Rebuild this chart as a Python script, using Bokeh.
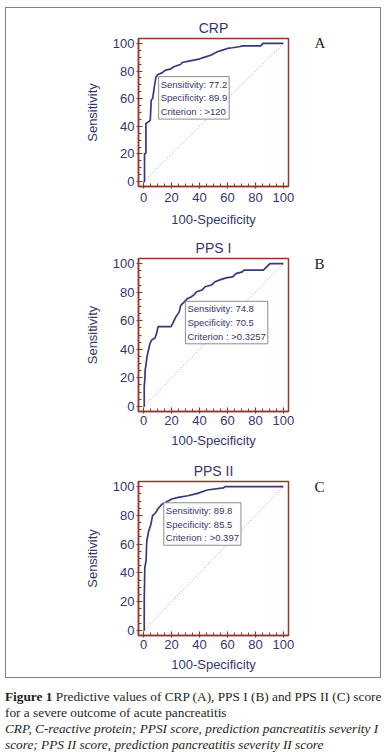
from bokeh.plotting import figure
from bokeh.layouts import column
from bokeh.models import Label, Div, SingleIntervalTicker, Range1d, LinearAxis, FixedTicker
from bokeh.embed import file_html
from bokeh.resources import INLINE

# ---- data ----
crp_fpr = [0, 0.7, 0.7, 1.7, 1.7, 3.6, 4.8, 5.5, 6.5, 7.9, 8.9, 10.3, 13.2, 15.6, 19.2, 21.6,
           26.4, 27.6, 32.4, 36.0, 39.6, 42.0, 44.4, 48.0, 50.4, 52.8, 56.4, 60.0, 63.5, 68.3,
           70.7, 83.9, 85.1, 100]
crp_tpr = [0, 0, 20.3, 20.3, 42.0, 43.2, 44.4, 58.9, 60.1, 69.8, 75.8, 77.5, 78.7, 80.7, 81.4, 83.1,
           84.8, 86.2, 87.2, 87.9, 88.6, 89.6, 90.3, 91.5, 92.8, 94.0, 95.2, 96.4, 96.9, 97.6,
           98.3, 98.3, 100, 100]

pps1_fpr = [0, 0.5, 0.5, 1.0, 1.2, 1.6, 2.5, 4.6, 5.8, 8.1, 9.3, 10.4, 19.7, 20.8, 23.1, 25.5,
            26.6, 29.0, 31.3, 33.6, 35.9, 38.0, 41.7, 44.0, 48.6, 51.0, 55.6, 59.0, 63.7, 66.0,
            70.6, 71.8, 85.6, 88.0, 90.3, 100]
pps1_tpr = [0, 0, 14.0, 20.0, 25.7, 28.0, 35.0, 44.0, 46.5, 47.7, 51.0, 55.8, 55.8, 58.0, 62.7, 66.2,
            70.8, 73.0, 75.5, 76.5, 78.0, 80.3, 81.5, 83.8, 85.0, 87.3, 89.0, 90.0, 90.7, 93.0,
            94.2, 95.4, 95.4, 97.7, 100, 100]

pps2_fpr = [0, 0.5, 0.5, 0.9, 1.8, 2.3, 3.7, 5.3, 6.4, 8.7, 11.0, 13.3, 15.6, 20.2, 24.8, 31.7,
            38.6, 45.5, 57.0, 58.2, 100]
pps2_tpr = [0, 0, 21.4, 43.6, 48.3, 62.2, 69.2, 73.9, 79.7, 82.0, 85.5, 87.9, 89.0, 91.4, 92.5, 93.7,
            95.3, 97.7, 99.1, 100, 100]

diag = [0, 100]

titles = ["CRP", "PPS I", "PPS II"]
letters = ["A", "B", "C"]
box_texts = ["Sensitivity: 77.2\nSpecificity: 89.9\nCriterion : >120",
             "Sensitivity: 74.8\nSpecificity: 70.5\nCriterion : >0.3257",
             "Sensitivity: 89.8\nSpecificity: 85.5\nCriterion : >0.397"]
box_x = [10.8, 29.9, 14.5]
box_y = [76.0, 73.6, 88.8]

NAVY = "#363a78"
BROWN = "#8e3b2e"
TEXT = "#34366e"


def make_panel(i, fpr, tpr, height, left, right, top, bottom, tick_standoff, xlabel_standoff):
    p = figure(width=374, height=height,
               x_range=Range1d(-3.6, 103.6), y_range=Range1d(-3.6, 103.6),
               output_backend="svg", toolbar_location=None,
               min_border_left=left, min_border_right=right,
               min_border_top=top, min_border_bottom=bottom,
               title=titles[i])
    p.title.align = "center"
    p.title.text_font = "Liberation Sans"
    p.title.text_font_size = "14px"
    p.title.text_font_style = "normal"
    p.title.text_color = TEXT
    p.title.standoff = 6
    p.grid.visible = False
    p.outline_line_color = BROWN
    p.outline_line_width = 1.5
    p.background_fill_color = "white"
    p.border_fill_color = "white"

    p.xaxis.ticker = SingleIntervalTicker(interval=20, num_minor_ticks=4)
    p.yaxis.ticker = SingleIntervalTicker(interval=20, num_minor_ticks=4)
    p.xaxis.axis_label = "100-Specificity"
    p.yaxis.axis_label = "Sensitivity"
    for ax in (p.xaxis, p.yaxis):
        ax.axis_line_color = BROWN
        ax.axis_line_width = 1.5
        ax.major_tick_line_color = BROWN
        ax.minor_tick_line_color = BROWN
        ax.major_tick_line_width = 1.2
        ax.minor_tick_line_width = 1
        ax.major_tick_in = 4
        ax.major_tick_out = 2
        ax.minor_tick_in = 3
        ax.minor_tick_out = 0
        ax.major_label_text_font = "Liberation Sans"
        ax.major_label_text_font_size = "13px"
        ax.major_label_text_color = TEXT
        ax.major_label_standoff = 2
        ax.axis_label_text_font = "Liberation Sans"
        ax.axis_label_text_font_size = "13px"
        ax.axis_label_text_font_style = "normal"
        ax.axis_label_text_color = TEXT
    p.xaxis.major_label_standoff = tick_standoff
    p.xaxis.axis_label_standoff = xlabel_standoff
    p.yaxis.axis_label_standoff = 10

    # panel letter, drawn as the label of a bare right-hand axis at y = 100
    letter_axis = LinearAxis(ticker=FixedTicker(ticks=[100]),
                             major_label_overrides={100: letters[i]},
                             axis_line_color=None, major_tick_line_color=None,
                             minor_tick_line_color=None,
                             major_label_text_font="Liberation Serif",
                             major_label_text_font_size="15px",
                             major_label_text_color="#222222",
                             major_label_standoff=20)
    p.add_layout(letter_axis, "right")

    p.line(diag, diag, line_color="#9a9ab8", line_dash="1 2", line_width=1)
    p.line(fpr, tpr, line_color=NAVY, line_width=1.7)

    p.add_layout(Label(x=box_x[i], y=box_y[i], text=box_texts[i],
                       text_font="Liberation Sans", text_font_size="9.5px",
                       text_color=TEXT, text_baseline="top", text_align="left",
                       text_line_height=1.25,
                       border_line_color="#8c8c8c", border_line_width=1,
                       background_fill_color="white", padding=2))
    return p


fA = make_panel(0, crp_fpr, crp_tpr, 222, 132, 92, 30, 44, 4, 7)
fB = make_panel(1, pps1_fpr, pps1_tpr, 220, 128, 91, 28, 37, 2, 5)
fC = make_panel(2, pps2_fpr, pps2_tpr, 227, 127, 92, 31, 42, 2, 5)

panel = column(fA, fB, fC, spacing=0,
               styles={"border": "1px solid #808080", "margin-left": "5px", "margin-top": "7px"})

caption = Div(text=(
    "<div style='font-family:\"Liberation Serif\",serif;font-size:13.3px;line-height:16px;"
    "color:#231f20;white-space:nowrap'>"
    "<b>Figure 1</b> Predictive values of CRP (A), PPS I (B) and PPS II (C) score<br>"
    "for a severe outcome of acute pancreatitis<br>"
    "<i>CRP, C-reactive protein; PPSI score, prediction pancreatitis severity I<br>"
    "score; PPS II score, prediction pancreatitis severity II score</i></div>"),
    width=380, styles={"margin-top": "11px", "margin-left": "5px"})

layout = column(panel, caption, spacing=0)

open("out.html", "w").write(file_html(layout, INLINE))
